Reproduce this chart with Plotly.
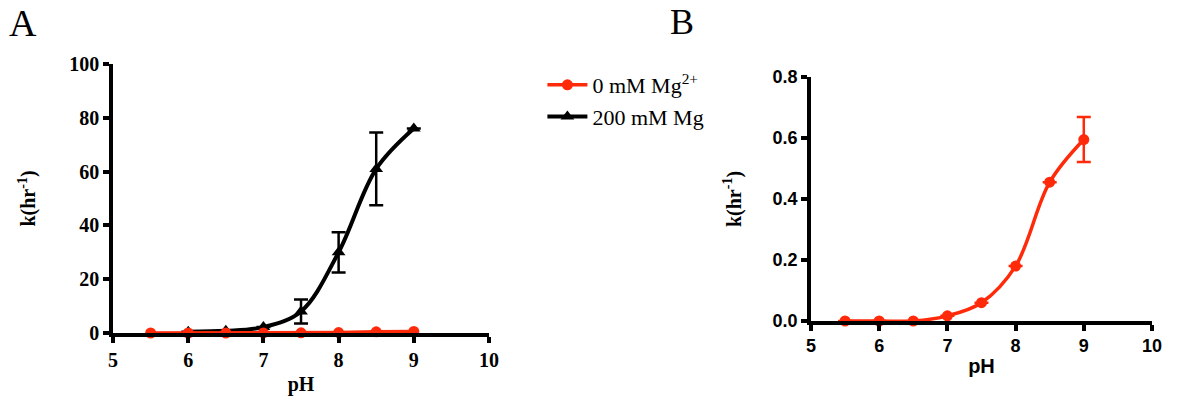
import plotly.graph_objects as go

# ---- data ----
ph_red = [5.5, 6.0, 6.5, 7.0, 7.5, 8.0, 8.5, 9.0]
k_red = [0.0, 0.0, 0.0, 0.017, 0.06, 0.18, 0.455, 0.595]
k_red_err = [0, 0, 0, 0, 0, 0, 0, 0.074]

ph_black = [6.0, 6.5, 7.0, 7.5, 8.0, 8.5, 9.0]
k_black = [0.5, 0.8, 2.2, 8.0, 30.0, 61.0, 76.0]
k_black_err = [0, 0, 0, 4.5, 7.5, 13.5, 0]

name_red = "0 mM Mg<sup>2+</sup>"
name_black = "200 mM Mg"
RED = "#ff2a0a"

fig = go.Figure()

# Panel A (black first so red draws on top, legend order set by rank)
fig.add_trace(go.Scatter(
    x=ph_black, y=k_black, name=name_black, mode="lines+markers", legendrank=2,
    line=dict(color="black", width=4, shape="spline", smoothing=1.0),
    marker=dict(color="black", size=12, symbol="triangle-up"),
    error_y=dict(type="data", array=k_black_err, color="black", thickness=2.5, width=7),
    xaxis="x", yaxis="y", cliponaxis=False))
fig.add_trace(go.Scatter(
    x=ph_red, y=k_red, name=name_red, mode="lines+markers", legendrank=1,
    line=dict(color=RED, width=3.5), marker=dict(color=RED, size=11, symbol="circle"),
    xaxis="x", yaxis="y", cliponaxis=False))

# Panel B
fig.add_trace(go.Scatter(
    x=ph_red, y=k_red, name=name_red, mode="lines+markers", showlegend=False,
    line=dict(color=RED, width=3.5, shape="spline", smoothing=1.0),
    marker=dict(color=RED, size=11, symbol="circle"),
    error_y=dict(type="data", array=k_red_err, color=RED, thickness=2.5, width=7),
    xaxis="x2", yaxis="y2", cliponaxis=False))

serif_b = dict(family="Liberation Serif", size=20, color="black", weight="bold")
sans_b = dict(family="Liberation Sans", size=18, color="black", weight="bold")

common_axis = dict(showline=True, linecolor="black", linewidth=3.5, ticks="outside",
                   ticklen=6, tickwidth=3.5, tickcolor="black", showgrid=False,
                   zeroline=False, fixedrange=True, automargin=False)

fig.update_layout(
    width=1200, height=400, autosize=False,
    margin=dict(l=0, r=0, t=0, b=0, pad=0),
    paper_bgcolor="white", plot_bgcolor="white",
    xaxis=dict(domain=[0.0942, 0.4075], range=[5, 10], dtick=1, anchor="y",
               tickfont=serif_b,
               title=dict(text="pH", font=serif_b, standoff=8), **common_axis),
    yaxis=dict(domain=[0.1675, 0.84], range=[0, 100], dtick=20, anchor="x",
               tickfont=serif_b,
               title=dict(text="k(hr<sup>-1</sup>)", font=serif_b, standoff=29),
               **common_axis),
    xaxis2=dict(domain=[0.6758, 0.96], range=[5, 10], dtick=1, anchor="y2",
                tickfont=sans_b,
                title=dict(text="pH", font=dict(family="Liberation Sans", size=20, color="black", weight="bold"), standoff=5),
                **common_axis),
    yaxis2=dict(domain=[0.1975, 0.8075], range=[0, 0.8], dtick=0.2, tickformat=".1f",
                anchor="x2", tickfont=sans_b,
                title=dict(text="k(hr<sup>-1</sup>)", font=serif_b, standoff=27),
                **common_axis),
    legend=dict(x=0.452, y=0.84, xanchor="left", yanchor="top",
                font=dict(family="Liberation Serif", size=22, color="black"),
                bgcolor="rgba(0,0,0,0)", tracegroupgap=0, itemwidth=40),
    showlegend=True,
    annotations=[
        dict(text="A", x=0.006, y=1.0, xref="paper", yref="paper", xanchor="left",
             yanchor="top", showarrow=False,
             font=dict(family="Liberation Serif", size=38, color="black")),
        dict(text="B", x=0.557, y=1.0, xref="paper", yref="paper", xanchor="left",
             yanchor="top", showarrow=False,
             font=dict(family="Liberation Serif", size=36, color="black")),
    ],
)

fig.write_html("out.html", config={"displayModeBar": False},
               post_script="document.body.style.margin='0';")
